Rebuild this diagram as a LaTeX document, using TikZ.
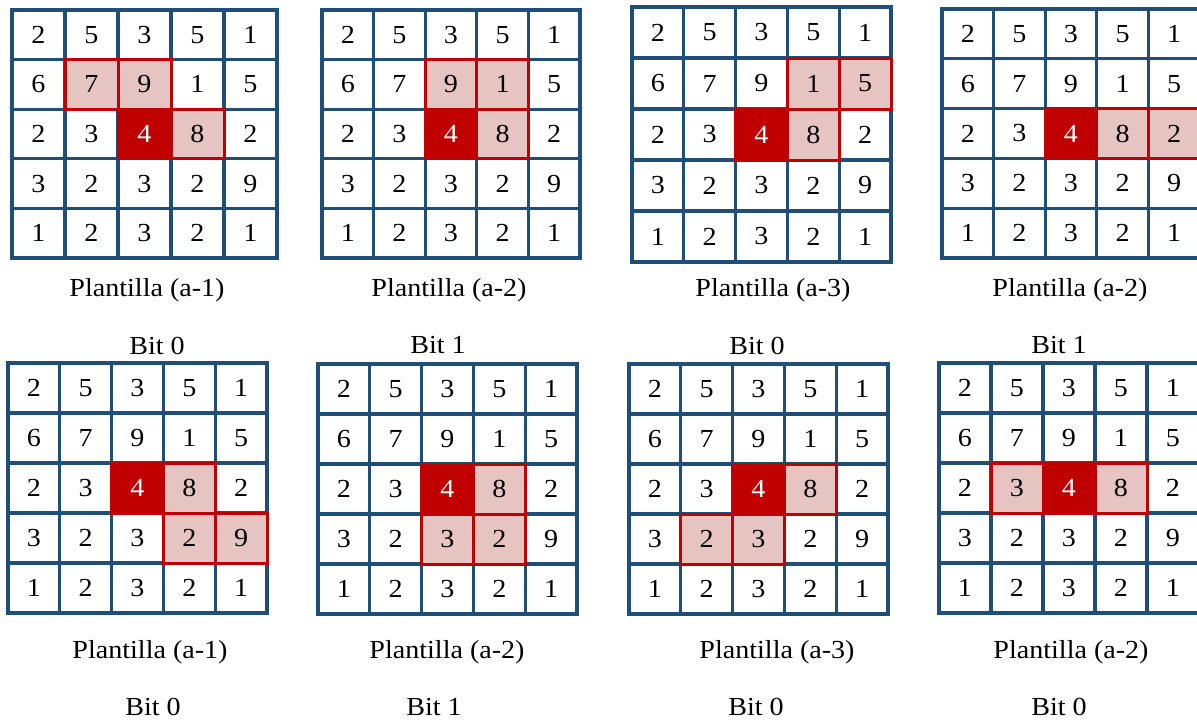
\documentclass[tikz,border=0pt]{standalone}
\usepackage{fontspec}
\setmainfont{Liberation Serif}[FakeStretch=1.08]
\definecolor{gblue}{HTML}{1F4E79}
\definecolor{gred}{HTML}{C00000}
\definecolor{gpink}{HTML}{E6C4C2}
\tikzset{
  cellbox/.style={draw=gblue, line width=3.2pt, fill=white, inner sep=0pt, outer sep=0pt,
    font=\fontsize{26}{31}\selectfont},
  pinkcell/.style={draw=gred, line width=3pt, fill=gpink},
  redcell/.style={draw=gred, line width=3pt, fill=gred, text=white},
  frame/.style={draw=gblue, line width=4pt},
  lab/.style={font=\fontsize{26}{31}\selectfont, inner sep=0pt}
}
\newcommand\drawgrid[6]{%
  \pgfmathsetmacro\cw{(#4-#2)/5}%
  \pgfmathsetmacro\ch{(#5-#3)/5}%
  \foreach \row [count=\ri] in {{2,5,3,5,1},{6,7,9,1,5},{2,3,4,8,2},{3,2,3,2,9},{1,2,3,2,1}} {%
    \foreach \v [count=\ci] in \row {%
      \node[cellbox, minimum width=\cw pt, minimum height=\ch pt] (#1-\ri-\ci)
        at ({#2+(\ci-0.5)*\cw},{#3+(\ri-0.5)*\ch}) {\v};
    }
  }
  \draw[frame] (#1-1-1.north west) rectangle (#1-5-5.south east);
  \foreach \ri/\ci/\v in {#6} {%
    \node[cellbox, pinkcell, minimum width=\cw pt, minimum height=\ch pt] (#1-p-\ri-\ci) at (#1-\ri-\ci) {\v};
  }
  \node[cellbox, redcell, minimum width=\cw pt, minimum height=\ch pt] (#1-c) at (#1-3-3) {4};
}
\begin{document}
\begin{tikzpicture}[x=1pt, y=-1pt]
\useasboundingbox (0,0) rectangle (1197,720);
\clip (0,0) rectangle (1197,720);
\fill[white] (0,0) rectangle (1197,720);
\drawgrid{ga}{12}{10}{277}{258}{2/2/7, 2/3/9, 3/4/8}
\drawgrid{gb}{322}{10}{580}{258}{2/3/9, 2/4/1, 3/4/8}
\drawgrid{gc}{632}{7}{891}{262}{2/4/1, 2/5/5, 3/4/8}
\drawgrid{gd}{942}{9}{1200}{258}{3/4/8, 3/5/2}
\drawgrid{ge}{8}{363}{267}{613}{3/4/8, 4/4/2, 4/5/9}
\drawgrid{gf}{318}{364}{577}{614}{3/4/8, 4/3/3, 4/4/2}
\drawgrid{gg}{629}{364}{888}{614}{3/4/8, 4/2/2, 4/3/3}
\drawgrid{gh}{939}{363}{1199}{613}{3/2/3, 3/4/8}
% top row labels
\node[lab] (pa) at (147,290) {Plantilla (a-1)};
\node[lab] (pb) at (449,290) {Plantilla (a-2)};
\node[lab] (pc) at (773,290) {Plantilla (a-3)};
\node[lab] (pd) at (1070,290) {Plantilla (a-2)};
\node[lab] (ba) at (157,345.5) {Bit 0};
\node[lab] (bb) at (438,345.5) {Bit 1};
\node[lab] (bc) at (757,345.5) {Bit 0};
\node[lab] (bd) at (1059,345.5) {Bit 1};
% bottom row labels
\node[lab] (pe) at (150,652) {Plantilla (a-1)};
\node[lab] (pf) at (447,652) {Plantilla (a-2)};
\node[lab] (pg) at (777,652) {Plantilla (a-3)};
\node[lab] (ph) at (1071,652) {Plantilla (a-2)};
\node[lab] (be) at (153,707) {Bit 0};
\node[lab] (bf) at (434,707) {Bit 1};
\node[lab] (bg) at (756,707) {Bit 0};
\node[lab] (bh) at (1059,707) {Bit 0};
\end{tikzpicture}
\end{document}
